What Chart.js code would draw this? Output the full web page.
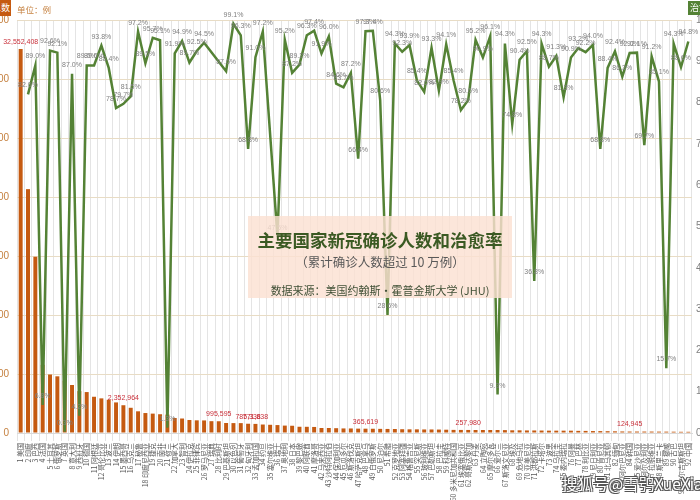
<!DOCTYPE html>
<html lang="zh">
<head>
<meta charset="UTF-8">
<title>主要国家新冠确诊人数和治愈率</title>
<script src="https://cdn.jsdelivr.net/npm/chart.js"></script>
<style>
  body { margin: 0; width: 700px; height: 500px; overflow: hidden; background: #fff; position: relative;
         font-family: "Noto Sans CJK SC", "Liberation Sans", sans-serif; }
  #wrap { position: absolute; left: -70px; top: 0; width: 800px; height: 500px; }
  .legend-cases { position: absolute; right: 689px; top: 0; background: #c55a11; color: #fff;
                  font-size: 9px; line-height: 16px; padding: 0 1px; white-space: nowrap; }
  .unit { position: absolute; left: 17px; top: 3px; color: #c5803f; font-size: 8.5px; }
  .legend-cure { position: absolute; left: 688px; top: 1px; background: #548235; color: #fff;
                 font-size: 9px; line-height: 14px; padding: 0 2px; white-space: nowrap; }
  .titlebox { position: absolute; left: 248px; top: 216px; width: 264px; height: 82px;
              background: rgba(251, 224, 210, 0.82); text-align: center; }
  .titlebox .t1 { position: absolute; left: 0; right: 0; top: 13px; font-size: 17.5px; font-weight: bold;
                  color: #3b5a23; line-height: 22px; }
  .titlebox .t2 { position: absolute; left: 0; right: 0; top: 38px; font-size: 12.5px; color: #595959; line-height: 16px; }
  .titlebox .t3 { position: absolute; left: 0; right: 0; top: 66px; font-size: 11px; color: #3f4f35; line-height: 16px; }
  .mark { position: absolute; left: 562px; top: 472px; font-size: 15.5px; color: #fff; white-space: nowrap;
          text-shadow: 1px 1px 0 #555, -1px -1px 0 #555, 1px -1px 0 #555, -1px 1px 0 #555; }
</style>
</head>
<body>
<div id="wrap"><canvas id="chart" width="800" height="500"></canvas></div>
<div class="legend-cases">确诊人数</div>
<div class="unit">单位：例</div>
<div class="legend-cure">治愈率</div>
<div class="titlebox">
  <div class="t1">主要国家新冠确诊人数和治愈率</div>
  <div class="t2">（累计确诊人数超过 10 万例）</div>
  <div class="t3">数据来源：美国约翰斯·霍普金斯大学 (JHU)</div>
</div>
<div class="mark">搜狐号@雪鸮XueXia</div>

<script>
const countries = [
  '美国', '印度', '巴西', '法国', '土耳其', '俄罗斯', '英国', '意大利', '西班牙', '德国',
  '阿根廷', '哥伦比亚', '波兰', '伊朗', '墨西哥', '乌克兰', '秘鲁', '印度尼西亚', '捷克', '南非',
  '荷兰', '加拿大', '智利', '伊拉克', '菲律宾', '罗马尼亚', '瑞典', '比利时', '巴基斯坦', '以色列',
  '葡萄牙', '匈牙利', '孟加拉国', '约旦', '塞尔维亚', '瑞士', '奥地利', '日本', '黎巴嫩', '阿联酋',
  '摩洛哥', '马来西亚', '沙特阿拉伯', '保加利亚', '厄瓜多尔', '斯洛伐克', '哈萨克斯坦', '巴拿马', '白俄罗斯', '尼泊尔',
  '希腊', '克罗地亚', '阿塞拜疆', '格鲁吉亚', '突尼斯', '玻利维亚', '巴勒斯坦', '巴拉圭', '科威特', '多米尼加共和国',
  '埃塞俄比亚', '哥斯达黎加', '丹麦', '立陶宛', '摩尔多瓦', '爱尔兰', '斯洛文尼亚', '埃及', '危地马拉', '亚美尼亚',
  '洪都拉斯', '卡塔尔', '波黑', '乌拉圭', '委内瑞拉', '阿曼', '巴林', '利比亚', '尼日利亚', '肯尼亚',
  '北马其顿', '缅甸', '阿尔巴尼亚', '韩国', '爱沙尼亚', '阿尔及利亚', '拉脱维亚', '斯里兰卡', '挪威', '古巴',
  '吉尔吉斯斯坦', '中国'
];

// 累计确诊人数
const cases = [
  32552408, 20665148, 14930183, 5780379, 4955594, 4803816, 4432246, 4070400, 3551262, 3468616,
  3071496, 2934611, 2819262, 2591609, 2352964, 2137431, 1837994, 1691658, 1642711, 1590370,
  1560283, 1270368, 1227730, 1100001, 1073555, 1064951, 1001526, 995595, 846452, 838981,
  837715, 785338, 771638, 719136, 695983, 671803, 628015, 614722, 529577, 526038,
  512518, 424376, 423045, 407689, 386839, 384210, 370145, 365619, 360102, 351210,
  344120, 340310, 321004, 311205, 310016, 300412, 299870, 292101, 279003, 264120,
  260104, 257980, 254012, 253510, 253006, 252017, 245003, 229410, 228035, 217460,
  215308, 209012, 200150, 199140, 198120, 197230, 181405, 177310, 165110, 161020,
  153240, 143010, 131120, 124945, 124010, 123070, 122030, 118020, 116040, 111020,
  102400, 102300
];

// 治愈率 (%), null = 无治愈数据
const cureRate = [
  null, 82.0, 89.0, 6.8, 92.6, 92.1, 0.3, 87.0, 4.2, 89.0,
  89.0, 93.8, 88.4, 78.7, 79.7, 81.5, 97.2, 89.5, 95.7, 95.1,
  1.3, 91.9, 94.9, 89.7, 92.5, 94.5, null, null, 87.6, 99.1,
  96.3, 68.8, 91.0, 97.2, null, 47.5, 95.2, 87.2, 89.2, 96.3,
  97.4, 91.9, 96.0, 84.6, 83.7, 87.2, 66.4, 97.3, 97.4, 80.6,
  28.6, 94.3, 92.3, 93.9, 85.4, 82.6, 93.3, 82.9, 94.1, 85.4,
  78.2, 80.6, 95.2, 90.9, 96.1, 9.3, 94.3, 74.8, 90.4, 92.5,
  36.8, 94.3, 88.7, 91.3, 81.3, 90.9, 93.2, 92.2, 94.0, 68.8,
  88.4, 92.4, 86.3, 92.0, 92.1, 69.7, 91.2, 85.1, 15.7, 94.3,
  88.6, 94.8
];

// 标注了确诊数的国家 (序号从 0 开始)
const labeledBars = [0, 14, 27, 31, 32, 47, 61, 83];

const labels = countries.map((c, i) => (i + 1) + ' ' + c);

const valueLabels = {
  id: 'valueLabels',
  afterDatasetsDraw(chart) {
    const ctx = chart.ctx;
    const barMeta = chart.getDatasetMeta(0);
    const lineMeta = chart.getDatasetMeta(1);
    ctx.save();
    ctx.textAlign = 'center';
    ctx.textBaseline = 'middle';
    ctx.font = '7px "Liberation Sans", Arial, sans-serif';
    ctx.fillStyle = '#808080';
    lineMeta.data.forEach((pt, i) => {
      if (cureRate[i] == null) return;
      ctx.fillText(cureRate[i].toFixed(1) + '%', pt.x, pt.y - 9);
    });
    ctx.fillStyle = '#c9303a';
    labeledBars.forEach(i => {
      const bar = barMeta.data[i];
      ctx.fillText(cases[i].toLocaleString('en-US'), bar.x, bar.y - 7);
    });
    ctx.restore();
  }
};

new Chart(document.getElementById('chart'), {
  data: {
    labels: labels,
    datasets: [
      {
        type: 'bar',
        label: '确诊人数',
        data: cases,
        yAxisID: 'y',
        backgroundColor: '#c55a11',
        barPercentage: 0.6,
        categoryPercentage: 0.9,
        order: 2
      },
      {
        type: 'line',
        label: '治愈率',
        data: cureRate,
        yAxisID: 'y1',
        borderColor: '#548235',
        borderWidth: 2.5,
        pointRadius: 0,
        tension: 0,
        spanGaps: true,
        order: 1
      }
    ]
  },
  options: {
    responsive: false,
    animation: false,
    layout: { padding: { top: 20, left: 0, right: 0, bottom: 0 } },
    plugins: {
      legend: { display: false },
      tooltip: { enabled: false }
    },
    scales: {
      x: {
        offset: true,
        grid: { color: '#e4e4e4', offset: true },
        border: { color: '#d9d9d9' },
        ticks: {
          autoSkip: false, minRotation: 90, maxRotation: 90, padding: 2,
          color: '#595959', font: { size: 7, family: '"Noto Sans CJK SC", sans-serif' }
        },
        afterFit: s => { s.height = 67; }
      },
      y: {
        position: 'left',
        min: 0, max: 35000000,
        grid: { color: '#e8dcc5', drawTicks: false },
        border: { display: false },
        ticks: {
          stepSize: 5000000, padding: 8, color: '#c5803f',
          font: { size: 10, family: '"Liberation Sans", Arial, sans-serif' },
          callback: v => v.toLocaleString('en-US')
        },
        afterFit: s => { s.width = 87; }
      },
      y1: {
        position: 'right',
        min: 0, max: 100,
        grid: { drawOnChartArea: false, drawTicks: false },
        border: { display: false },
        ticks: {
          stepSize: 10, padding: 4, color: '#7f7f7f',
          font: { size: 10, family: '"Liberation Sans", Arial, sans-serif' },
          callback: v => v + '%'
        },
        afterFit: s => { s.width = 38; }
      }
    }
  },
  plugins: [valueLabels]
});
</script>
</body>
</html>
